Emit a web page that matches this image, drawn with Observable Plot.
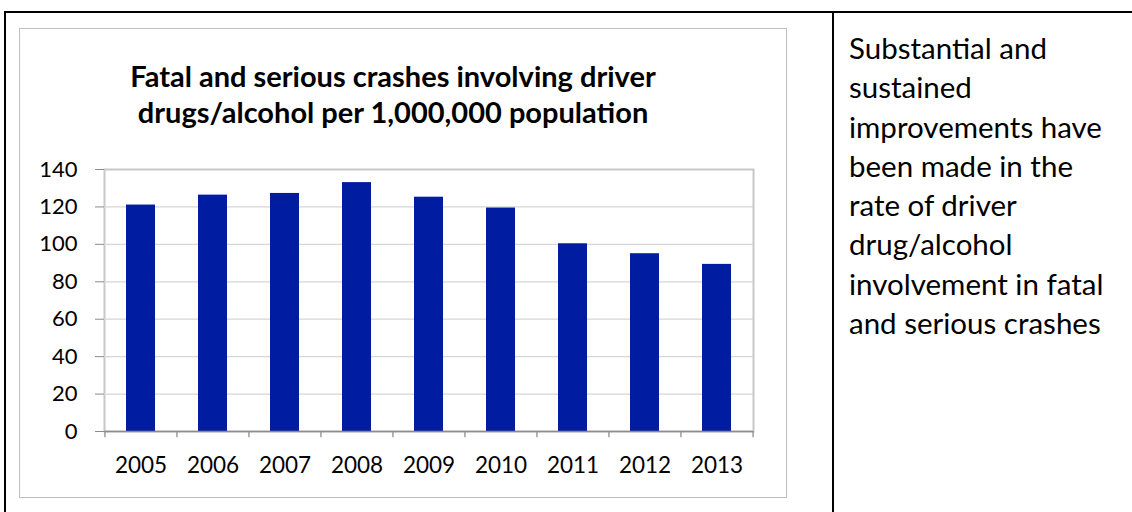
<!DOCTYPE html>
<html>
<head>
<meta charset="utf-8">
<script src="https://cdn.jsdelivr.net/npm/d3@7"></script>
<script src="https://cdn.jsdelivr.net/npm/@observablehq/plot@0.6"></script>
<style>
  html, body { margin: 0; padding: 0; background: #fff; }
  #page { position: relative; width: 1132px; height: 512px; overflow: hidden; font-family: Lato, "Open Sans", sans-serif; color: #000; }
  #frameTop { position: absolute; left: 4px; top: 11px; width: 1140px; height: 2px; background: #000; }
  #frameLeft { position: absolute; left: 4px; top: 11px; width: 2px; height: 520px; background: #000; }
  #divider { position: absolute; left: 832px; top: 11px; width: 2px; height: 520px; background: #000; }
  #chartBox { position: absolute; left: 19px; top: 28px; width: 768px; height: 470px; border: 1.5px solid #bfbfbf; box-sizing: border-box; }
  #title { position: absolute; left: 19px; width: 748px; top: 58px; text-align: center; font-weight: bold; font-size: 29px; line-height: 36px; }
  #note { position: absolute; left: 849px; top: 28px; width: 283px; font-size: 29.5px; line-height: 39.3px; }
  #chart { position: absolute; left: 0; top: 0; }
  #chart g[aria-label="y-axis tick"], #chart g[aria-label="x-axis tick"] { color: #8c8c8c; }
</style>
</head>
<body>
<div id="page">
  <div id="frameTop"></div>
  <div id="frameLeft"></div>
  <div id="divider"></div>
  <div id="chartBox"></div>
  <div id="chart"></div>
  <div id="title">Fatal and serious crashes involving driver<br>drugs/alcohol per 1,000,000 population</div>
  <div id="note">Substantial and<br>sustained<br>improvements have<br>been made in the<br>rate of driver<br>drug/alcohol<br>involvement in fatal<br>and serious crashes</div>
</div>
<script>
const years = ["2005", "2006", "2007", "2008", "2009", "2010", "2011", "2012", "2013"];
const rates = [121, 126.3, 127.2, 133, 125.2, 119.4, 100.3, 95, 89.3];
const yTicks = [0, 20, 40, 60, 80, 100, 120, 140];
const gridTicks = [20, 40, 60, 80, 100, 120];

const data = years.map((year, i) => ({year, rate: rates[i]}));

const W = 800, H = 500, mL = 104, mR = 47, mT = 169, mB = 69;
const step = (W - mL - mR) / years.length;

const chart = Plot.plot({
  width: W,
  height: H,
  marginLeft: mL,
  marginRight: mR,
  marginTop: mT,
  marginBottom: mB,
  style: {fontFamily: "Lato, 'Open Sans', sans-serif", fontSize: "22.5px", color: "#000", background: "transparent", overflow: "visible"},
  x: {domain: years, paddingInner: 0.6, paddingOuter: 0.3, label: null},
  y: {domain: [0, 140], label: null},
  marks: [
    Plot.frame({stroke: "#c8c8c8", strokeWidth: 2}),
    Plot.ruleY(gridTicks, {stroke: "#d6d6d6", strokeWidth: 1.3}),
    Plot.barY(data, {x: "year", y: "rate", fill: "#001ca0"}),
    Plot.ruleY([0], {stroke: "#8c8c8c", strokeWidth: 1.6}),
    Plot.ruleX(years, {x: d => d, dx: -step / 2, y1: 0, y2: -3.4, stroke: "#8c8c8c", strokeWidth: 1.3}),
    Plot.ruleX([years[years.length - 1]], {x: d => d, dx: step / 2, y1: 0, y2: -3.4, stroke: "#8c8c8c", strokeWidth: 1.3}),
    Plot.axisY({ticks: yTicks, tickSize: 9, tickPadding: 18, line: true, fontSize: 22, tickFormat: d => String(d)}),
    Plot.axisX({tickSize: 0, tickPadding: 26, fontSize: 22.5})
  ]
});
document.getElementById("chart").appendChild(chart);
</script>
</body>
</html>
